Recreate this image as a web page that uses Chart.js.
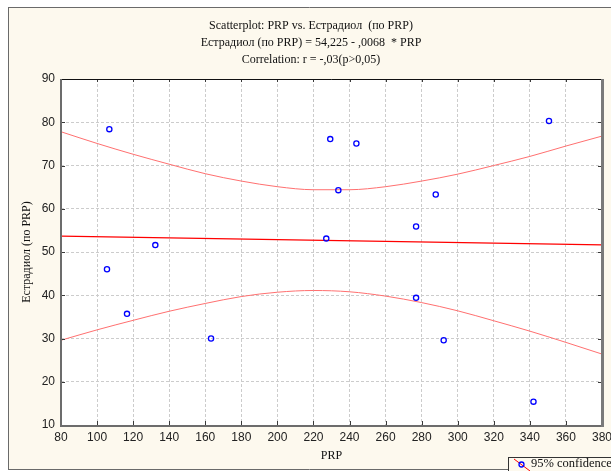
<!DOCTYPE html>
<html>
<head>
<meta charset="utf-8">
<script src="https://cdn.jsdelivr.net/npm/chart.js@4.4.0/dist/chart.umd.min.js"></script>
<style>
    html, body { margin: 0; padding: 0; background: #fff; }
    #wrap { width: 611px; height: 471px; }
</style>
</head>
<body>
<div id="wrap"><canvas id="grafico" width="611" height="471"></canvas></div>
<script>
// observações: PRP x Estradiol
const prp = [105.5, 106.8, 116.6, 132.3, 163.2, 227.1, 229.3, 233.8, 243.8, 276.9, 276.9, 287.8, 292.2, 342.0, 350.6];
const estradiol = [46.0, 78.4, 35.7, 51.6, 30.0, 53.1, 76.1, 64.3, 75.1, 55.9, 39.4, 63.3, 29.6, 15.4, 80.3];

// reta ajustada (mesmos coeficientes do título)
const fitIntercept = 54.225;
const fitSlope = -0.0068;
const fitX = [80, 380];

// faixa de confiança 95%
const bandX = [80, 100, 120, 140, 160, 180, 200, 220, 240, 260, 280, 300, 320, 340, 360, 380];
const bandUpper = [77.8, 75.1, 72.6, 70.3, 68.1, 66.4, 65.1, 64.4, 64.4, 65.1, 66.4, 68.0, 70.0, 72.1, 74.5, 76.8];
const bandLower = [29.6, 32.0, 34.2, 36.3, 38.1, 39.7, 40.7, 41.1, 40.8, 39.8, 38.3, 36.4, 34.1, 31.7, 29.1, 26.4];

const xTicks = [80, 100, 120, 140, 160, 180, 200, 220, 240, 260, 280, 300, 320, 340, 360, 380];
const yTicks = [10, 20, 30, 40, 50, 60, 70, 80, 90];

const titleLines = [
    "Scatterplot: PRP vs. Естрадиол  (по PRP)",
    "Естрадиол (по PRP) = 54,225 - ,0068  * PRP",
    "Correlation: r = -,03(p>0,05)"
];
const xTitle = "PRP";
const yTitle = "Естрадиол (по PRP)";
const legendText = "95% confidence";

const serif = '"Liberation Serif", "Times New Roman", serif';
const sans = '"Liberation Sans", Arial, sans-serif';

function pares(xs, ys) {
    return xs.map(function (x, i) { return { x: x, y: ys[i] }; });
}

const moldura = {
    id: "moldura",
    beforeDraw: function (chart) {
        const ctx = chart.ctx;
        const a = chart.chartArea;
        ctx.save();
        ctx.fillStyle = "#ffffff";
        ctx.fillRect(0, 0, chart.width, chart.height);
        ctx.fillStyle = "#fdf9ee";
        ctx.fillRect(8, 7, chart.width - 8, 462);
        ctx.strokeStyle = "#6a6a6a";
        ctx.lineWidth = 1;
        ctx.beginPath();
        ctx.moveTo(8.5, 7);
        ctx.lineTo(8.5, 469.5);
        ctx.moveTo(8, 7.5);
        ctx.lineTo(chart.width, 7.5);
        ctx.moveTo(8, 469.5);
        ctx.lineTo(chart.width, 469.5);
        ctx.stroke();
        ctx.fillStyle = "#ffffff";
        ctx.fillRect(a.left, a.top, a.right - a.left, a.bottom - a.top);
        ctx.restore();
    },
    afterDraw: function (chart) {
        const ctx = chart.ctx;
        const a = chart.chartArea;
        const sx = chart.scales.x;
        const sy = chart.scales.y;
        ctx.save();

        // ticks internos
        ctx.strokeStyle = "#3a3a3a";
        ctx.lineWidth = 1;
        ctx.beginPath();
        xTicks.forEach(function (v) {
            const px = Math.round(sx.getPixelForValue(v)) + 0.5;
            ctx.moveTo(px, a.bottom);
            ctx.lineTo(px, a.bottom - 4);
            ctx.moveTo(px, a.top);
            ctx.lineTo(px, a.top + 3);
        });
        yTicks.forEach(function (v) {
            const py = Math.round(sy.getPixelForValue(v)) + 0.5;
            ctx.moveTo(a.left, py);
            ctx.lineTo(a.left + 4, py);
            ctx.moveTo(a.right, py);
            ctx.lineTo(a.right - 4, py);
        });
        ctx.stroke();

        // borda do gráfico
        ctx.strokeStyle = "#111111";
        ctx.lineWidth = 1;
        ctx.beginPath();
        ctx.moveTo(a.left, a.top + 0.5);
        ctx.lineTo(a.right, a.top + 0.5);
        ctx.stroke();
        ctx.strokeStyle = "#6c6c6c";
        ctx.lineWidth = 2;
        ctx.beginPath();
        ctx.moveTo(a.left, a.top);
        ctx.lineTo(a.left, a.bottom + 1);
        ctx.lineTo(a.right, a.bottom + 1);
        ctx.stroke();
        ctx.strokeStyle = "#7a7a7a";
        ctx.lineWidth = 3;
        ctx.beginPath();
        ctx.moveTo(a.right + 0.5, a.top);
        ctx.lineTo(a.right + 0.5, a.bottom + 2);
        ctx.stroke();

        // títulos
        ctx.fillStyle = "#111111";
        ctx.font = "12px " + serif;
        ctx.textAlign = "center";
        ctx.textBaseline = "middle";
        ctx.fillText(titleLines[0], 311, 26);
        ctx.fillText(titleLines[1], 311, 43);
        ctx.fillText(titleLines[2], 311, 60);
        ctx.fillText(xTitle, (a.left + a.right) / 2, 456);

        ctx.save();
        ctx.translate(27, (a.top + a.bottom) / 2);
        ctx.rotate(-Math.PI / 2);
        ctx.fillText(yTitle, 0, 0);
        ctx.restore();

        // legenda
        ctx.fillStyle = "#fdf9ee";
        ctx.fillRect(508, 457, 110, 20);
        ctx.strokeStyle = "#333333";
        ctx.lineWidth = 1;
        ctx.strokeRect(508.5, 457.5, 110, 20);
        ctx.save();
        ctx.beginPath();
        ctx.rect(509, 458, 100, 13);
        ctx.clip();
        ctx.strokeStyle = "#ff0000";
        ctx.beginPath();
        ctx.moveTo(514, 459);
        ctx.lineTo(530, 471);
        ctx.stroke();
        ctx.restore();
        ctx.strokeStyle = "#0000ff";
        ctx.lineWidth = 1.3;
        ctx.beginPath();
        ctx.arc(521.5, 464.5, 2.5, 0, Math.PI * 2);
        ctx.stroke();
        ctx.fillStyle = "#111111";
        ctx.font = "12.5px " + serif;
        ctx.textAlign = "left";
        ctx.fillText(legendText, 531, 464);

        ctx.restore();
    }
};

new Chart("grafico", {
    type: "scatter",
    data: {
        datasets: [{
            data: pares(prp, estradiol),
            borderColor: "#0000ff",
            backgroundColor: "rgba(0,0,0,0)",
            borderWidth: 1.3,
            pointRadius: 2.6,
            pointHoverRadius: 2.6
        }, {
            data: pares(fitX, fitX.map(function (x) { return fitIntercept + fitSlope * x; })),
            showLine: true,
            borderColor: "#ff0000",
            borderWidth: 1.3,
            pointRadius: 0
        }, {
            data: pares(bandX, bandUpper),
            showLine: true,
            borderColor: "#ff7070",
            borderWidth: 1,
            pointRadius: 0,
            cubicInterpolationMode: "monotone"
        }, {
            data: pares(bandX, bandLower),
            showLine: true,
            borderColor: "#ff7070",
            borderWidth: 1,
            pointRadius: 0,
            cubicInterpolationMode: "monotone"
        }]
    },
    options: {
        responsive: false,
        animation: false,
        devicePixelRatio: 1,
        layout: {
            padding: { top: 79, right: 9, bottom: 0, left: 0 }
        },
        plugins: {
            legend: { display: false },
            tooltip: { enabled: false }
        },
        scales: {
            x: {
                type: "linear",
                min: 80,
                max: 380,
                afterFit: function (scale) {
                    scale.height = 46;
                    scale.paddingLeft = 0;
                    scale.paddingRight = 0;
                },
                afterBuildTicks: function (scale) {
                    scale.ticks = xTicks.map(function (v) { return { value: v }; });
                },
                grid: {
                    color: "#cccccc",
                    drawTicks: false
                },
                border: {
                    display: false,
                    dash: [3, 2]
                },
                ticks: {
                    padding: 5,
                    color: "#222",
                    font: { family: sans, size: 12 },
                    maxRotation: 0,
                    autoSkip: false
                }
            },
            y: {
                min: 10,
                max: 90,
                afterFit: function (scale) {
                    scale.width = 61;
                    scale.paddingTop = 0;
                    scale.paddingBottom = 0;
                },
                afterBuildTicks: function (scale) {
                    scale.ticks = yTicks.map(function (v) { return { value: v }; });
                },
                grid: {
                    color: "#cccccc",
                    drawTicks: false
                },
                border: {
                    display: false,
                    dash: [3, 2]
                },
                ticks: {
                    padding: 6,
                    color: "#222",
                    font: { family: sans, size: 12 },
                    autoSkip: false
                }
            }
        }
    },
    plugins: [moldura]
});
</script>
</body>
</html>
